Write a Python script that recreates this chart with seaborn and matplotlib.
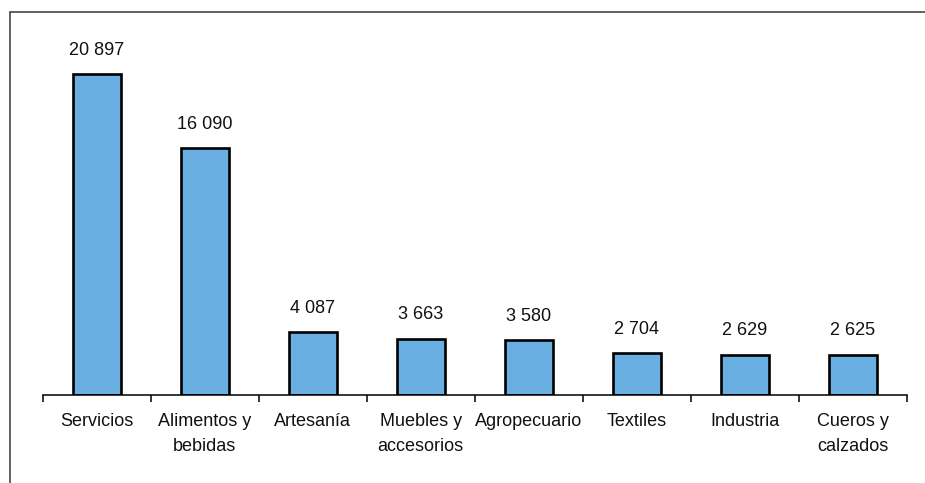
import matplotlib
matplotlib.use("Agg")
import matplotlib.pyplot as plt
import seaborn as sns
import pandas as pd
from matplotlib.lines import Line2D

categories = ["Servicios", "Alimentos y\nbebidas", "Artesanía", "Muebles y\naccesorios",
              "Agropecuario", "Textiles", "Industria", "Cueros y\ncalzados"]
values = [20897, 16090, 4087, 3663, 3580, 2704, 2629, 2625]

sns.set_theme(style="white")
plt.rcParams['font.family'] = ['Liberation Sans', 'DejaVu Sans']
fs = 13

df = pd.DataFrame({"cat": categories, "val": values})

fig = plt.figure(figsize=(9.25, 4.83), dpi=100)
W, H = 925, 483
ax = fig.add_axes([42.7 / W, (H - 395) / H, 864 / W, 384 / H])

sns.barplot(data=df, x="cat", y="val", ax=ax, color="#6aafe1", saturation=1,
            width=0.444, edgecolor="black", linewidth=1.9)

ax.set_ylim(0, 25000)
ax.set_xlim(-0.5, len(categories) - 0.5)
ax.set_xlabel("")
ax.set_ylabel("")
ax.set_yticks([])
for s in ["top", "right", "left"]:
    ax.spines[s].set_visible(False)
ax.spines["bottom"].set_color("black")
ax.spines["bottom"].set_linewidth(1.1)

# category boundary ticks
ax.set_xticks([i - 0.5 for i in range(len(categories) + 1)], minor=False)
ax.set_xticklabels([])
ax.tick_params(axis="x", which="major", direction="out", length=5, width=1.1,
               color="black", bottom=True)
ax.set_xticks(range(len(categories)), minor=True)
ax.set_xticklabels(categories, minor=True, fontsize=fs, color="#111111",
                   linespacing=1.6)
ax.tick_params(axis="x", which="minor", length=0, pad=13)

labels = [f"{v:,}".replace(",", " ") for v in values]
ax.bar_label(ax.containers[0], labels=labels, padding=11, fontsize=fs, color="#111111")

# outer frame (left and top edges)
fig.add_artist(Line2D([10 / W, 10 / W], [0, 1 - 12 / H], transform=fig.transFigure,
                      color="#555555", linewidth=1.3))
fig.add_artist(Line2D([10 / W, 1], [1 - 12 / H, 1 - 12 / H], transform=fig.transFigure,
                      color="#555555", linewidth=1.3))

fig.savefig("out.png", dpi=100)
